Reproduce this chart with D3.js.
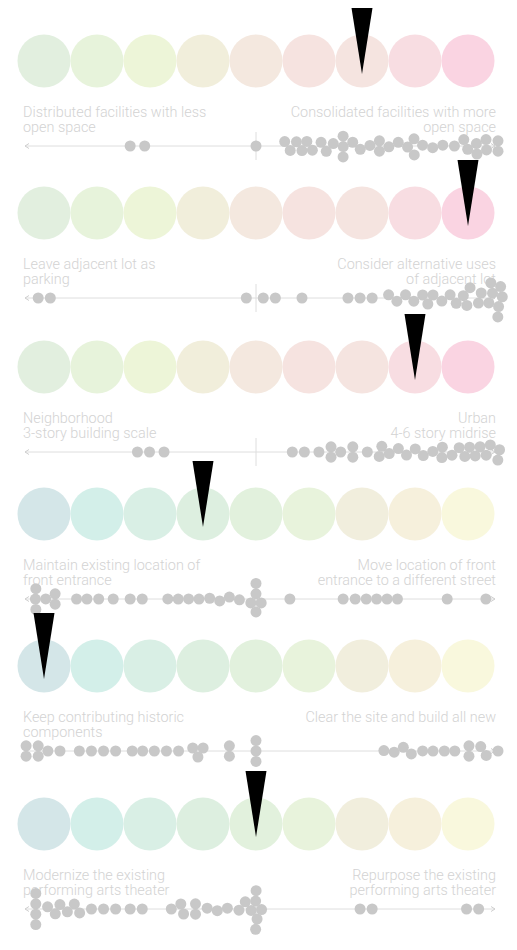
<!DOCTYPE html>
<html>
<head>
<meta charset="utf-8">
<script src="https://cdn.jsdelivr.net/npm/d3@7"></script>
<style>
  body { margin: 0; background: #fff; }
  svg text { font-family: Roboto, "Open Sans", sans-serif; font-weight: 300; }
</style>
</head>
<body>
<div id="chart"></div>
<script>
// answers per question, -100 (left statement) .. 100 (right statement)
var votes1 = [-52, -46, 0, 12, 14, 17, 19, 21, 23, 27, 29, 32, 36, 36, 36, 40, 43, 47, 51, 51, 55, 59, 63, 65, 65, 69, 73, 77, 82, 86, 88, 91, 91, 95, 95, 100, 100];
var votes2 = [-90, -85, -4, 3, 8, 19, 38, 43, 48, 55, 58, 62, 65, 69, 71, 73, 77, 80, 83, 86, 87, 88, 92, 93, 97, 98, 99, 100, 100, 100, 100];
var votes3 = [-49, -44, -38, 15, 20, 26, 31, 31, 35, 40, 40, 46, 51, 52, 55, 59, 62, 66, 69, 73, 77, 77, 81, 84, 87, 88, 90, 93, 95, 97, 100, 100];
var votes4 = [-91, -91, -91, -87, -83, -83, -74, -70, -65, -59, -52, -47, -36, -32, -28, -24, -19, -15, -11, -7, 0, 0, 0, 0, 0, 14, 36, 41, 46, 50, 54, 58, 79, 95];
var votes5 = [-95, -95, -90, -90, -86, -81, -73, -68, -63, -58, -51, -47, -42, -37, -32, -26, -24, -22, -11, -11, 0, 0, 0, 53, 57, 61, 64, 69, 73, 78, 82, 88, 88, 93, 95, 100];
var votes6 = [-91, -91, -91, -91, -86, -83, -81, -78, -75, -73, -68, -63, -58, -52, -47, -35, -31, -30, -25, -25, -20, -16, -12, -7, -4, 0, 0, 0, 0, 0, 0, 43, 48, 87, 92];

var leftLabels = [
  ["Distributed facilities with less", "open space"],
  ["Leave adjacent lot as", "parking"],
  ["Neighborhood", "3-story building scale"],
  ["Maintain existing location of", "front entrance"],
  ["Keep contributing historic", "components"],
  ["Modernize the existing", "performing arts theater"]
];
var rightLabels = [
  ["Consolidated facilities with more", "open space"],
  ["Consider alternative uses", "of adjacent lot"],
  ["Urban", "4-6 story midrise"],
  ["Move location of front", "entrance to a different street"],
  ["Clear the site and build all new"],
  ["Repurpose the existing", "performing arts theater"]
];
var chosen = [6, 8, 7, 3, 0, 4];   // which of the 9 circles the marker points at
var warmColors = ['#e2efdf', '#e7f3db', '#edf5d8', '#f1eedb', '#f4e8df', '#f6e3e0', '#f5e4e0', '#f8dde2', '#fad4e2'];
var coolColors = ['#d4e6e8', '#d3efe9', '#d9efe5', '#ddefe0', '#e2f1dd', '#e8f3dc', '#f1eedd', '#f6f0dc', '#f9f8dd'];

var allVotes = [votes1, votes2, votes3, votes4, votes5, votes6];
var palettes = [warmColors, warmColors, warmColors, coolColors, coolColors, coolColors];

var width = 517, height = 950;
var rowY = [61, 213, 367, 514, 666, 824];
var circleR = 26.5, dotR = 5.5;

var svg = d3.select('#chart').append('svg')
  .attr('width', width)
  .attr('height', height);

var steps = d3.scalePoint().domain(d3.range(9)).range([44, 468]);
var x = d3.scaleLinear().domain([-100, 100]).range([14, 498]);

allVotes.forEach(function(votes, p) {
  var g = svg.append('g').attr('transform', 'translate(0,' + rowY[p] + ')');

  g.selectAll('circle.step')
    .data(palettes[p])
    .enter().append('circle')
      .attr('class', 'step')
      .attr('cx', function(d, i) { return steps(i); })
      .attr('cy', 0)
      .attr('r', circleR)
      .style('fill', function(d) { return d; });

  var cx = steps(chosen[p]);
  g.append('path')
    .attr('d', 'M' + (cx - 10.5) + ',-53 L' + (cx + 10.5) + ',-53 L' + cx + ',13 Z')
    .style('fill', '#000');

  var textG = g.append('g').attr('transform', 'translate(0,56)');
  textG.append('text')
    .style('font-size', '14.4px')
    .style('fill', '#d3d3d3')
    .selectAll('tspan')
    .data(leftLabels[p])
    .enter().append('tspan')
      .attr('x', 23)
      .attr('y', function(d, i) { return i * 15; })
      .text(function(d) { return d; });
  textG.append('text')
    .attr('text-anchor', 'end')
    .style('font-size', '14.4px')
    .style('fill', '#d3d3d3')
    .selectAll('tspan')
    .data(rightLabels[p])
    .enter().append('tspan')
      .attr('x', 496)
      .attr('y', function(d, i) { return i * 15; })
      .text(function(d) { return d; });

  var axis = g.append('g').attr('transform', 'translate(0,85)');
  axis.append('line')
    .attr('x1', 25).attr('x2', 495)
    .style('stroke', '#dedede');
  axis.append('path')
    .attr('d', 'M29,-2.5 L25,0 L29,2.5')
    .style('fill', 'none').style('stroke', '#cfcfcf');
  axis.append('path')
    .attr('d', 'M491,-2.5 L495,0 L491,2.5')
    .style('fill', 'none').style('stroke', '#cfcfcf');
  axis.append('line')
    .attr('x1', x(0)).attr('x2', x(0))
    .attr('y1', -14).attr('y2', 14)
    .style('stroke', '#dedede');

  // beeswarm
  var nodes = votes.map(function(v) { return {value: v, x: x(v), y: 0}; });
  var sim = d3.forceSimulation(nodes)
    .force('x', d3.forceX(function(d) { return x(d.value); }).strength(0.8))
    .force('y', d3.forceY(0).strength(0.1))
    .force('collide', d3.forceCollide(dotR - 0.3).iterations(2))
    .stop();
  for (var i = 0; i < 300; i++) sim.tick();

  axis.selectAll('circle.vote')
    .data(nodes)
    .enter().append('circle')
      .attr('class', 'vote')
      .attr('cx', function(d) { return d.x; })
      .attr('cy', function(d) { return d.y; })
      .attr('r', dotR)
      .style('fill', '#c8c8c8');
});
</script>
</body>
</html>
